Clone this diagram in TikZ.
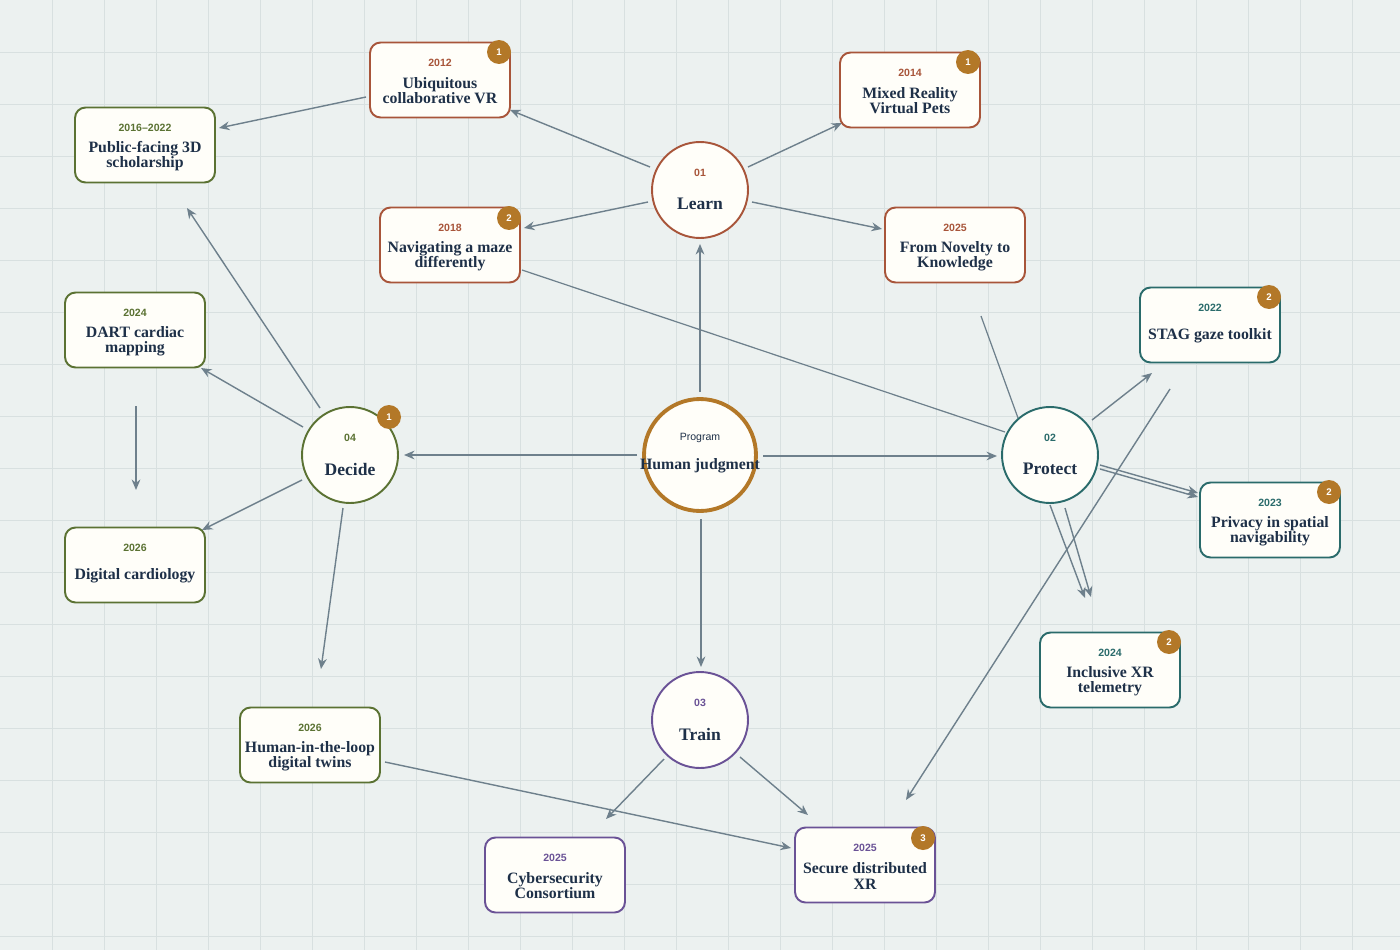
\documentclass[tikz,border=0pt]{standalone}
\usepackage{fontspec}
\setmainfont{Liberation Serif}
\setsansfont{Liberation Sans}
\usetikzlibrary{arrows.meta}
\definecolor{bg}{HTML}{ECF1F0}
\definecolor{gridc}{HTML}{D8E0E0}
\definecolor{rust}{HTML}{A8553A}
\definecolor{grn}{HTML}{5B7233}
\definecolor{teal}{HTML}{2A6B6B}
\definecolor{purp}{HTML}{6A5296}
\definecolor{badge}{HTML}{B37828}
\definecolor{edge}{HTML}{6E808C}
\definecolor{ink}{HTML}{1E3048}
\definecolor{paper}{HTML}{FFFEF9}
\tikzset{
 box/.style={draw=#1,line width=1.1pt,fill=paper,rounded corners=6pt,minimum width=2.8cm,minimum height=1.5cm},
 circ/.style={draw=#1,line width=1.1pt,fill=paper,circle,minimum size=1.92cm},
 bdg/.style={circle,fill=badge,minimum size=0.48cm,inner sep=0pt,text=white,font=\sffamily\bfseries\fontsize{5.5}{6}\selectfont},
 yr/.style={font=\sffamily\bfseries\fontsize{6}{7}\selectfont,text=#1},
 ttl/.style={font=\bfseries\fontsize{9}{8.6}\selectfont,text=ink,align=center},
 ar/.style={draw=edge,line width=0.8pt,-{Stealth[length=6pt,width=5pt]}},
 ln/.style={draw=edge,line width=0.7pt},
}
\newcommand{\bx}[7]{% name, x, y, color, year, title
 \node[box=#4] (#1) at (#2,#3) {};
 \node[yr=#4] (#1y) at (#2,#3-17) {#5};
 \node[ttl] (#1t) at (#2,#3+11) {#6};
 #7}
\begin{document}
\begin{tikzpicture}[x=0.02cm,y=-0.02cm]
\fill[bg] (0,0) rectangle (1400,950);
\useasboundingbox (0,0) rectangle (1400,950);
\foreach \i in {1,...,26} \draw[gridc,line width=0.4pt] (\i*52,0) -- (\i*52,950);
\foreach \i in {1,...,18} \draw[gridc,line width=0.4pt] (0,\i*52) -- (1400,\i*52);

% edges
\draw[ar] (700,392) -- (700,244);
\draw[ar] (637,455) -- (404,455);
\draw[ar] (763,456) -- (997,456);
\draw[ar] (701,519) -- (701,667);
\draw[ar] (650,167) -- (510,110);
\draw[ar] (748,167) -- (842,123);
\draw[ar] (648,202) -- (524,228);
\draw[ar] (752,202) -- (882,229);
\draw[ar] (366,97) -- (219,128);
\draw[ln] (522,270) -- (1005,432);
\draw[ar] (320,408) -- (187,208);
\draw[ar] (303,427) -- (201,368);
\draw[ar] (136,406) -- (136,490);
\draw[ar] (302,480) -- (202,530);
\draw[ar] (343,508) -- (321,669);
\draw[ar] (385,762) -- (791,848);
\draw[ar] (664,759) -- (606,819);
\draw[ar] (740,757) -- (808,815);
\draw[ln] (981,316) -- (1018,418);
\draw[ar] (1092,420) -- (1152,373);
\draw[ar] (1100,465) -- (1198,493);
\draw[ar] (1100,469) -- (1198,497);
\draw[ar] (1050,505) -- (1085,598);
\draw[ar] (1065,508) -- (1091,597);
\draw[ar] (1170,389) -- (906,800);

% hubs
\node[circle,draw=badge,line width=2.2pt,fill=paper,minimum size=2.24cm] (hub) at (700,455) {};
\node[font=\sffamily\fontsize{6}{7}\selectfont,text=ink] (hubp) at (700,438) {Program};
\node[ttl] (hubt) at (700,466) {Human judgment};
\foreach \n/\x/\y/\c/\k/\t in {learn/700/190/rust/01/Learn,decide/350/455/grn/04/Decide,protect/1050/455/teal/02/Protect,train/700/720/purp/03/Train}{
 \node[circ=\c] (\n) at (\x,\y) {};
 \node[yr=\c] (\n k) at (\x,\y-17) {\k};
 \node[font=\bfseries\fontsize{10}{10}\selectfont,text=ink] (\n t) at (\x,\y+14) {\t};
}
\node[bdg] (bd) at (389,417) {1};

% boxes
\bx{a}{440}{80}{rust}{2012}{Ubiquitous\\collaborative VR}{\node[bdg] (ab) at (499,52) {1};}
\bx{b}{910}{90}{rust}{2014}{Mixed Reality\\Virtual Pets}{\node[bdg] (bb) at (968,62) {1};}
\bx{c}{145}{145}{grn}{2016--2022}{Public-facing 3D\\scholarship}{}
\bx{d}{450}{245}{rust}{2018}{Navigating a maze\\differently}{\node[bdg] (db) at (509,218) {2};}
\bx{e}{955}{245}{rust}{2025}{From Novelty to\\Knowledge}{}
\bx{f}{135}{330}{grn}{2024}{DART cardiac\\mapping}{}
\bx{g}{135}{565}{grn}{2026}{Digital cardiology}{}
\bx{h}{310}{745}{grn}{2026}{Human-in-the-loop\\digital twins}{}
\bx{i}{1210}{325}{teal}{2022}{STAG gaze toolkit}{\node[bdg] (ib) at (1269,297) {2};}
\bx{j}{1270}{520}{teal}{2023}{Privacy in spatial\\navigability}{\node[bdg] (jb) at (1329,492) {2};}
\bx{k}{1110}{670}{teal}{2024}{Inclusive XR\\telemetry}{\node[bdg] (kb) at (1169,642) {2};}
\bx{l}{555}{875}{purp}{2025}{Cybersecurity\\Consortium}{}
\bx{m}{865}{865}{purp}{2025}{Secure distributed\\XR}{\node[bdg] (mb) at (923,838) {3};}
\end{tikzpicture}
\end{document}
